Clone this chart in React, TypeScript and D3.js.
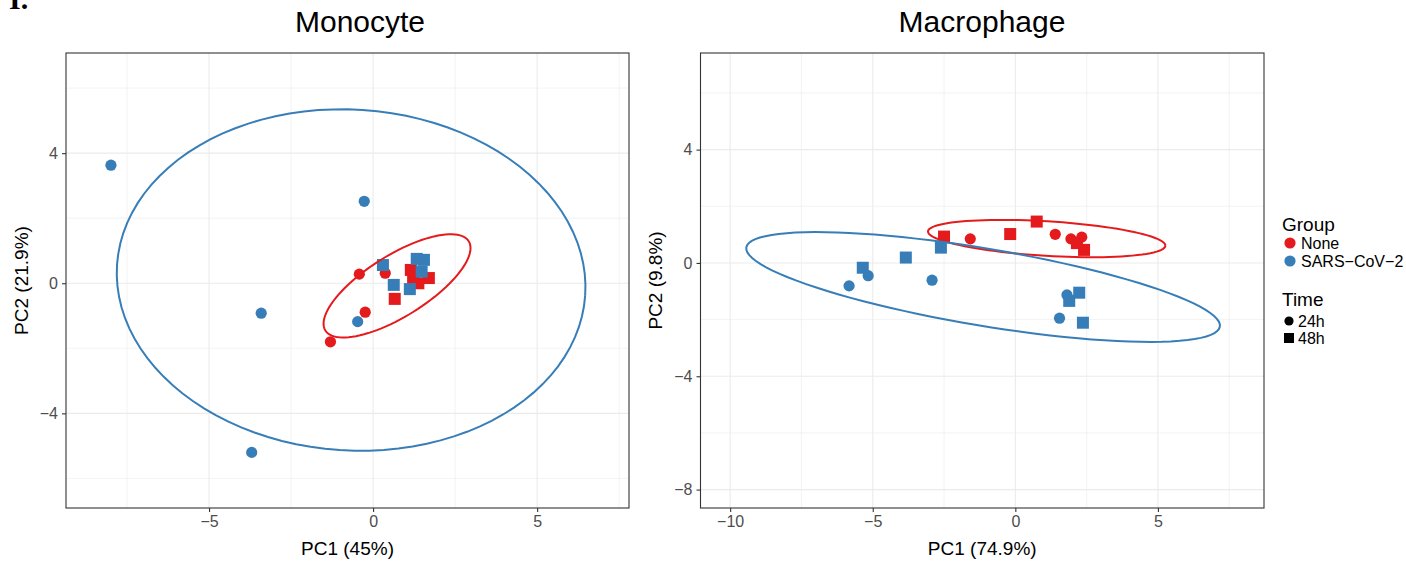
import React, { useEffect, useRef } from "react";
import * as d3 from "d3";

// group / time levels
const groups = ["None", "SARS-CoV-2"];
const times = ["24h", "48h"];
const groupColors = ["#E41A1C", "#377EB8"];

// Monocyte PCA scores [PC1, PC2]
const monoNone24h = [[-1.3, -1.8], [-0.42, 0.28], [0.37, 0.31], [-0.24, -0.89]];
const monoNone48h = [[0.66, -0.48], [1.15, 0.41], [1.7, 0.16], [1.38, 0.0], [1.22, 0.15]];
const monoSars24h = [[-7.99, 3.63], [-0.27, 2.52], [-3.41, -0.92], [-3.7, -5.2], [-0.47, -1.18]];
const monoSars48h = [[0.3, 0.56], [0.63, -0.05], [1.12, -0.18], [1.33, 0.75], [1.55, 0.72], [1.48, 0.36]];

// Macrophage PCA scores [PC1, PC2]
const macroNone24h = [[-1.58, 0.85], [1.4, 1.01], [1.95, 0.85], [2.33, 0.91]];
const macroNone48h = [[-2.5, 0.93], [-0.18, 1.02], [0.75, 1.46], [2.16, 0.7], [2.41, 0.46]];
const macroSars24h = [[-5.16, -0.45], [-5.83, -0.81], [-2.92, -0.61], [1.81, -1.13], [1.55, -1.95]];
const macroSars48h = [[-5.35, -0.17], [-3.84, 0.19], [-2.61, 0.54], [2.24, -1.05], [1.89, -1.34], [2.37, -2.11]];

// 95% ellipses: [cx, cy, semi-major, semi-minor, angle(rad)]
const monoEllipses = [[0.73, -0.08, 2.58, 0.94, 0.562], [-0.67, 0.1, 7.15, 5.24, -0.066]];
const macroEllipses = [[1.1, 0.86, 4.17, 0.61, -0.061], [-1.13, -0.85, 8.42, 1.36, -0.167]];

const panels = [
  {
    title: "Monocyte", xlab: "PC1 (45%)", ylab: "PC2 (21.9%)",
    left: 66, right: 629, top: 53, bottom: 508,
    xdom: [-9.36, 7.8], ydom: [-6.91, 7.08],
    xmajor: [-5, 0, 5], xminor: [-7.5, -2.5, 2.5, 7.5],
    ymajor: [-4, 0, 4], yminor: [-6, -2, 2, 6],
    titleX: 360, ytitleX: 28,
    pts: [monoNone24h, monoNone48h, monoSars24h, monoSars48h],
    ell: monoEllipses,
  },
  {
    title: "Macrophage", xlab: "PC1 (74.9%)", ylab: "PC2 (9.8%)",
    left: 700.5, right: 1264, top: 53, bottom: 508,
    xdom: [-11.04, 8.72], ydom: [-8.65, 7.41],
    xmajor: [-10, -5, 0, 5], xminor: [-7.5, -2.5, 2.5, 7.5],
    ymajor: [-8, -4, 0, 4], yminor: [-6, -2, 2, 6],
    titleX: 982, ytitleX: 662,
    pts: [macroNone24h, macroNone48h, macroSars24h, macroSars48h],
    ell: macroEllipses,
  },
];

const font = "'Liberation Sans', Arial, Helvetica, sans-serif";

function drawPanel(svg, p) {
  const x = d3.scaleLinear().domain(p.xdom).range([p.left, p.right]);
  const y = d3.scaleLinear().domain(p.ydom).range([p.bottom, p.top]);
  const g = svg.append("g");

  g.append("rect")
    .attr("x", p.left).attr("y", p.top)
    .attr("width", p.right - p.left).attr("height", p.bottom - p.top)
    .attr("fill", "white");

  // grid
  g.append("g").selectAll("line").data(p.xminor).join("line")
    .attr("x1", (d) => x(d)).attr("x2", (d) => x(d))
    .attr("y1", p.top).attr("y2", p.bottom)
    .attr("stroke", "#EBEBEB").attr("stroke-width", 0.6);
  g.append("g").selectAll("line").data(p.yminor).join("line")
    .attr("y1", (d) => y(d)).attr("y2", (d) => y(d))
    .attr("x1", p.left).attr("x2", p.right)
    .attr("stroke", "#EBEBEB").attr("stroke-width", 0.6);
  g.append("g").selectAll("line").data(p.xmajor).join("line")
    .attr("x1", (d) => x(d)).attr("x2", (d) => x(d))
    .attr("y1", p.top).attr("y2", p.bottom)
    .attr("stroke", "#EBEBEB").attr("stroke-width", 1.1);
  g.append("g").selectAll("line").data(p.ymajor).join("line")
    .attr("y1", (d) => y(d)).attr("y2", (d) => y(d))
    .attr("x1", p.left).attr("x2", p.right)
    .attr("stroke", "#EBEBEB").attr("stroke-width", 1.1);

  // points: None first, then SARS-CoV-2
  p.pts.forEach((arr, i) => {
    const col = groupColors[Math.floor(i / 2)];
    const isSquare = i % 2 === 1;
    if (isSquare) {
      g.append("g").selectAll("rect").data(arr).join("rect")
        .attr("x", (d) => x(d[0]) - 6).attr("y", (d) => y(d[1]) - 6)
        .attr("width", 12).attr("height", 12)
        .attr("fill", col);
    } else {
      g.append("g").selectAll("circle").data(arr).join("circle")
        .attr("cx", (d) => x(d[0])).attr("cy", (d) => y(d[1]))
        .attr("r", 5.6)
        .attr("fill", col);
    }
  });

  // ellipses
  const ts = d3.range(0, 101).map((k) => (k / 100) * 2 * Math.PI);
  const line = d3.line().x((d) => x(d[0])).y((d) => y(d[1]));
  p.ell.forEach((e, i) => {
    const [cx, cy, a, b, th] = e;
    const pts = ts.map((t) => [
      cx + a * Math.cos(th) * Math.cos(t) - b * Math.sin(th) * Math.sin(t),
      cy + a * Math.sin(th) * Math.cos(t) + b * Math.cos(th) * Math.sin(t),
    ]);
    g.append("path").attr("d", line(pts))
      .attr("fill", "none").attr("stroke", groupColors[i]).attr("stroke-width", 2);
  });

  // border
  g.append("rect")
    .attr("x", p.left).attr("y", p.top)
    .attr("width", p.right - p.left).attr("height", p.bottom - p.top)
    .attr("fill", "none").attr("stroke", "#333333").attr("stroke-width", 1.1);

  // axes
  const xa = g.append("g").attr("transform", `translate(0,${p.bottom})`)
    .call(d3.axisBottom(x).tickValues(p.xmajor).tickSize(4).tickPadding(4)
      .tickFormat((d) => String(d).replace("-", "\u2212")));
  const ya = g.append("g").attr("transform", `translate(${p.left},0)`)
    .call(d3.axisLeft(y).tickValues(p.ymajor).tickSize(4).tickPadding(4)
      .tickFormat((d) => String(d).replace("-", "\u2212")));
  [xa, ya].forEach((a) => {
    a.select(".domain").remove();
    a.selectAll(".tick line").attr("stroke", "#333333").attr("stroke-width", 1.1);
    a.selectAll(".tick text").attr("fill", "#4D4D4D").attr("font-size", 16).attr("font-family", font);
  });

  g.append("text").attr("x", p.titleX).attr("y", 32)
    .attr("text-anchor", "middle").attr("font-size", 30).attr("font-family", font)
    .text(p.title);
  g.append("text").attr("x", (p.left + p.right) / 2).attr("y", 555)
    .attr("text-anchor", "middle").attr("font-size", 19).attr("font-family", font)
    .text(p.xlab);
  g.append("text")
    .attr("transform", `translate(${p.ytitleX},${(p.top + p.bottom) / 2}) rotate(-90)`)
    .attr("text-anchor", "middle").attr("font-size", 19).attr("font-family", font)
    .text(p.ylab);
}

function drawLegend(svg) {
  const lg = svg.append("g").attr("font-family", font);
  lg.append("text").attr("x", 1282).attr("y", 231).attr("font-size", 19).text("Group");
  groups.forEach((gname, i) => {
    lg.append("circle").attr("cx", 1290).attr("cy", 243 + i * 18).attr("r", 5.6).attr("fill", groupColors[i]);
    lg.append("text").attr("x", 1301).attr("y", 248.5 + i * 18).attr("font-size", 16)
      .text(gname.replace(/-/g, "\u2212"));
  });
  lg.append("text").attr("x", 1282).attr("y", 306).attr("font-size", 19).text("Time");
  times.forEach((tname, i) => {
    const cy = 321 + i * 17;
    if (i === 0) {
      lg.append("circle").attr("cx", 1289).attr("cy", cy).attr("r", 4.6).attr("fill", "black");
    } else {
      lg.append("rect").attr("x", 1284).attr("y", cy - 5).attr("width", 10).attr("height", 10).attr("fill", "black");
    }
    lg.append("text").attr("x", 1298).attr("y", cy + 5.5).attr("font-size", 16).text(tname);
  });
}

export default function App() {
  const ref = useRef(null);
  useEffect(() => {
    const svg = d3.select(ref.current);
    svg.selectAll("*").remove();
    svg.append("rect").attr("width", 1406).attr("height", 566).attr("fill", "white");
    // panel label, cut at the top edge as in the source figure
    svg.append("text").attr("x", 9).attr("y", 9).attr("font-size", 30)
      .attr("font-weight", "bold").attr("font-family", "'Liberation Serif', serif").text("I.");
    panels.forEach((p) => drawPanel(svg, p));
    drawLegend(svg);
  }, []);
  return (
    <svg ref={ref} width={1406} height={566}
      style={{ position: "absolute", left: 0, top: 0, display: "block" }} />
  );
}
